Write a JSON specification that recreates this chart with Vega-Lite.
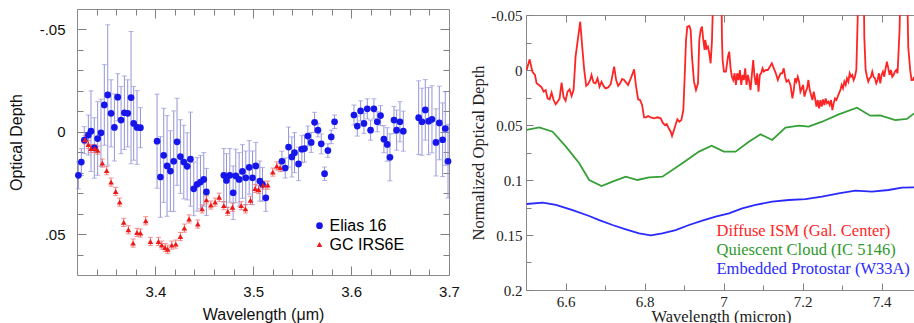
{
  "$schema": "https://vega.github.io/schema/vega-lite/v6.json",
  "padding": {"left": 7, "top": 7, "right": 0, "bottom": 0},
  "background": "white",
  "config": {
    "view": {"stroke": "#8a8a8a", "strokeWidth": 1},
    "axis": {"domain": false, "grid": false}
  },
  "columns": 2,
  "align": "none",
  "spacing": 10,
  "resolve": {"scale": {"color": "independent", "shape": "independent", "size": "independent"}},
  "datasets": {
    "left": [
      {"wl": 3.3214, "tau": 0.0213, "err": 0.0066, "src": "Elias 16"},
      {"wl": 3.3244, "tau": 0.0148, "err": 0.0066, "src": "Elias 16"},
      {"wl": 3.3275, "tau": 0.0041, "err": 0.0066, "src": "Elias 16"},
      {"wl": 3.3316, "tau": 0.0016, "err": 0.0098, "src": "Elias 16"},
      {"wl": 3.3343, "tau": -0.0003, "err": 0.0197, "src": "Elias 16"},
      {"wl": 3.3377, "tau": 0.0079, "err": 0.0148, "src": "Elias 16"},
      {"wl": 3.3411, "tau": 0.0033, "err": 0.018, "src": "Elias 16"},
      {"wl": 3.3445, "tau": 0.0005, "err": 0.0164, "src": "Elias 16"},
      {"wl": 3.3479, "tau": -0.0131, "err": 0.0197, "src": "Elias 16"},
      {"wl": 3.3514, "tau": -0.018, "err": 0.0343, "src": "Elias 16"},
      {"wl": 3.3548, "tau": -0.009, "err": 0.0164, "src": "Elias 16"},
      {"wl": 3.3582, "tau": -0.0021, "err": 0.0164, "src": "Elias 16"},
      {"wl": 3.3616, "tau": -0.0169, "err": 0.0115, "src": "Elias 16"},
      {"wl": 3.365, "tau": -0.0057, "err": 0.0164, "src": "Elias 16"},
      {"wl": 3.3684, "tau": -0.0093, "err": 0.018, "src": "Elias 16"},
      {"wl": 3.3718, "tau": -0.009, "err": 0.0164, "src": "Elias 16"},
      {"wl": 3.3752, "tau": -0.0167, "err": 0.0323, "src": "Elias 16"},
      {"wl": 3.3779, "tau": -0.0041, "err": 0.018, "src": "Elias 16"},
      {"wl": 3.3813, "tau": -0.0021, "err": 0.018, "src": "Elias 16"},
      {"wl": 3.3848, "tau": -0.002, "err": 0.0098, "src": "Elias 16"},
      {"wl": 3.4018, "tau": 0.0046, "err": 0.023, "src": "Elias 16"},
      {"wl": 3.4052, "tau": 0.0221, "err": 0.0197, "src": "Elias 16"},
      {"wl": 3.4086, "tau": 0.0115, "err": 0.023, "src": "Elias 16"},
      {"wl": 3.412, "tau": 0.0167, "err": 0.0246, "src": "Elias 16"},
      {"wl": 3.4154, "tau": 0.0192, "err": 0.0197, "src": "Elias 16"},
      {"wl": 3.4188, "tau": 0.0144, "err": 0.0246, "src": "Elias 16"},
      {"wl": 3.4222, "tau": 0.0049, "err": 0.0213, "src": "Elias 16"},
      {"wl": 3.4256, "tau": 0.0121, "err": 0.018, "src": "Elias 16"},
      {"wl": 3.4291, "tau": 0.0148, "err": 0.018, "src": "Elias 16"},
      {"wl": 3.4325, "tau": 0.0169, "err": 0.0164, "src": "Elias 16"},
      {"wl": 3.4359, "tau": 0.0134, "err": 0.023, "src": "Elias 16"},
      {"wl": 3.4393, "tau": 0.0279, "err": 0.0131, "src": "Elias 16"},
      {"wl": 3.4427, "tau": 0.0257, "err": 0.0131, "src": "Elias 16"},
      {"wl": 3.4461, "tau": 0.0246, "err": 0.0131, "src": "Elias 16"},
      {"wl": 3.4495, "tau": 0.0233, "err": 0.0131, "src": "Elias 16"},
      {"wl": 3.4522, "tau": 0.0294, "err": 0.0115, "src": "Elias 16"},
      {"wl": 3.47, "tau": 0.0213, "err": 0.0131, "src": "Elias 16"},
      {"wl": 3.4727, "tau": 0.0238, "err": 0.0131, "src": "Elias 16"},
      {"wl": 3.4761, "tau": 0.0213, "err": 0.0131, "src": "Elias 16"},
      {"wl": 3.4795, "tau": 0.0298, "err": 0.0131, "src": "Elias 16"},
      {"wl": 3.4822, "tau": 0.0216, "err": 0.0131, "src": "Elias 16"},
      {"wl": 3.4856, "tau": 0.0233, "err": 0.0131, "src": "Elias 16"},
      {"wl": 3.489, "tau": 0.0194, "err": 0.0131, "src": "Elias 16"},
      {"wl": 3.4924, "tau": 0.0225, "err": 0.0131, "src": "Elias 16"},
      {"wl": 3.4959, "tau": 0.0174, "err": 0.0131, "src": "Elias 16"},
      {"wl": 3.4993, "tau": 0.0225, "err": 0.0131, "src": "Elias 16"},
      {"wl": 3.5027, "tau": 0.0167, "err": 0.0115, "src": "Elias 16"},
      {"wl": 3.5068, "tau": 0.0241, "err": 0.0098, "src": "Elias 16"},
      {"wl": 3.5095, "tau": 0.0257, "err": 0.0082, "src": "Elias 16"},
      {"wl": 3.5129, "tau": 0.0323, "err": 0.0066, "src": "Elias 16"},
      {"wl": 3.5293, "tau": 0.0144, "err": 0.0049, "src": "Elias 16"},
      {"wl": 3.5327, "tau": 0.0177, "err": 0.0049, "src": "Elias 16"},
      {"wl": 3.5361, "tau": 0.0075, "err": 0.0098, "src": "Elias 16"},
      {"wl": 3.5395, "tau": 0.0123, "err": 0.0098, "src": "Elias 16"},
      {"wl": 3.5422, "tau": 0.0102, "err": 0.0098, "src": "Elias 16"},
      {"wl": 3.5463, "tau": 0.0157, "err": 0.0082, "src": "Elias 16"},
      {"wl": 3.5497, "tau": 0.0085, "err": 0.0066, "src": "Elias 16"},
      {"wl": 3.5524, "tau": 0.0082, "err": 0.0066, "src": "Elias 16"},
      {"wl": 3.5558, "tau": 0.0021, "err": 0.0049, "src": "Elias 16"},
      {"wl": 3.5592, "tau": 0.0052, "err": 0.0049, "src": "Elias 16"},
      {"wl": 3.5627, "tau": -0.0046, "err": 0.0049, "src": "Elias 16"},
      {"wl": 3.5661, "tau": -0.0008, "err": 0.0033, "src": "Elias 16"},
      {"wl": 3.5695, "tau": 0.0059, "err": 0.0049, "src": "Elias 16"},
      {"wl": 3.5729, "tau": 0.0205, "err": 0.0033, "src": "Elias 16"},
      {"wl": 3.5763, "tau": 0.0092, "err": 0.0033, "src": "Elias 16"},
      {"wl": 3.5797, "tau": 0.0025, "err": 0.0033, "src": "Elias 16"},
      {"wl": 3.5831, "tau": -0.0049, "err": 0.0033, "src": "Elias 16"},
      {"wl": 3.6029, "tau": -0.0082, "err": 0.0049, "src": "Elias 16"},
      {"wl": 3.6063, "tau": -0.0028, "err": 0.0049, "src": "Elias 16"},
      {"wl": 3.6097, "tau": -0.0102, "err": 0.0049, "src": "Elias 16"},
      {"wl": 3.6131, "tau": -0.0041, "err": 0.0049, "src": "Elias 16"},
      {"wl": 3.6165, "tau": -0.0112, "err": 0.0049, "src": "Elias 16"},
      {"wl": 3.6199, "tau": -0.0008, "err": 0.0049, "src": "Elias 16"},
      {"wl": 3.6233, "tau": -0.0112, "err": 0.0049, "src": "Elias 16"},
      {"wl": 3.6267, "tau": -0.0049, "err": 0.0049, "src": "Elias 16"},
      {"wl": 3.6301, "tau": -0.0079, "err": 0.0049, "src": "Elias 16"},
      {"wl": 3.6335, "tau": 0.0036, "err": 0.0066, "src": "Elias 16"},
      {"wl": 3.6369, "tau": 0.0062, "err": 0.0082, "src": "Elias 16"},
      {"wl": 3.6397, "tau": 0.0125, "err": 0.0115, "src": "Elias 16"},
      {"wl": 3.6438, "tau": -0.0057, "err": 0.0066, "src": "Elias 16"},
      {"wl": 3.6465, "tau": -0.0008, "err": 0.0098, "src": "Elias 16"},
      {"wl": 3.6499, "tau": -0.0049, "err": 0.0098, "src": "Elias 16"},
      {"wl": 3.6533, "tau": -0.0003, "err": 0.0098, "src": "Elias 16"},
      {"wl": 3.669, "tau": -0.0069, "err": 0.018, "src": "Elias 16"},
      {"wl": 3.6724, "tau": -0.0049, "err": 0.0164, "src": "Elias 16"},
      {"wl": 3.6758, "tau": -0.0107, "err": 0.0148, "src": "Elias 16"},
      {"wl": 3.6792, "tau": -0.0052, "err": 0.0164, "src": "Elias 16"},
      {"wl": 3.6826, "tau": -0.0061, "err": 0.0164, "src": "Elias 16"},
      {"wl": 3.6867, "tau": 0.0052, "err": 0.0164, "src": "Elias 16"},
      {"wl": 3.6901, "tau": -0.0043, "err": 0.018, "src": "Elias 16"},
      {"wl": 3.6935, "tau": 0.0039, "err": 0.018, "src": "Elias 16"},
      {"wl": 3.6962, "tau": -0.0016, "err": 0.018, "src": "Elias 16"},
      {"wl": 3.699, "tau": 0.0144, "err": 0.018, "src": "Elias 16"},
      {"wl": 3.3282, "tau": 0.0039, "err": 0.002, "src": "GC IRS6E"},
      {"wl": 3.3316, "tau": 0.0062, "err": 0.002, "src": "GC IRS6E"},
      {"wl": 3.3343, "tau": 0.0082, "err": 0.002, "src": "GC IRS6E"},
      {"wl": 3.3381, "tau": 0.0082, "err": 0.002, "src": "GC IRS6E"},
      {"wl": 3.3411, "tau": 0.009, "err": 0.002, "src": "GC IRS6E"},
      {"wl": 3.3459, "tau": 0.0153, "err": 0.002, "src": "GC IRS6E"},
      {"wl": 3.3503, "tau": 0.019, "err": 0.002, "src": "GC IRS6E"},
      {"wl": 3.3548, "tau": 0.0246, "err": 0.002, "src": "GC IRS6E"},
      {"wl": 3.3595, "tau": 0.0292, "err": 0.002, "src": "GC IRS6E"},
      {"wl": 3.3636, "tau": 0.0344, "err": 0.002, "src": "GC IRS6E"},
      {"wl": 3.3677, "tau": 0.0443, "err": 0.002, "src": "GC IRS6E"},
      {"wl": 3.3725, "tau": 0.0479, "err": 0.002, "src": "GC IRS6E"},
      {"wl": 3.3773, "tau": 0.0544, "err": 0.002, "src": "GC IRS6E"},
      {"wl": 3.3813, "tau": 0.0492, "err": 0.002, "src": "GC IRS6E"},
      {"wl": 3.3848, "tau": 0.0495, "err": 0.002, "src": "GC IRS6E"},
      {"wl": 3.3902, "tau": 0.0435, "err": 0.002, "src": "GC IRS6E"},
      {"wl": 3.395, "tau": 0.0536, "err": 0.002, "src": "GC IRS6E"},
      {"wl": 3.4032, "tau": 0.0536, "err": 0.002, "src": "GC IRS6E"},
      {"wl": 3.4066, "tau": 0.0554, "err": 0.002, "src": "GC IRS6E"},
      {"wl": 3.41, "tau": 0.0566, "err": 0.002, "src": "GC IRS6E"},
      {"wl": 3.4127, "tau": 0.0574, "err": 0.002, "src": "GC IRS6E"},
      {"wl": 3.4168, "tau": 0.0554, "err": 0.002, "src": "GC IRS6E"},
      {"wl": 3.4209, "tau": 0.0549, "err": 0.002, "src": "GC IRS6E"},
      {"wl": 3.4256, "tau": 0.0512, "err": 0.002, "src": "GC IRS6E"},
      {"wl": 3.4297, "tau": 0.0471, "err": 0.002, "src": "GC IRS6E"},
      {"wl": 3.4345, "tau": 0.0426, "err": 0.002, "src": "GC IRS6E"},
      {"wl": 3.4434, "tau": 0.0451, "err": 0.002, "src": "GC IRS6E"},
      {"wl": 3.4478, "tau": 0.0377, "err": 0.002, "src": "GC IRS6E"},
      {"wl": 3.4522, "tau": 0.0333, "err": 0.002, "src": "GC IRS6E"},
      {"wl": 3.4567, "tau": 0.0358, "err": 0.002, "src": "GC IRS6E"},
      {"wl": 3.4611, "tau": 0.0344, "err": 0.002, "src": "GC IRS6E"},
      {"wl": 3.4652, "tau": 0.032, "err": 0.002, "src": "GC IRS6E"},
      {"wl": 3.47, "tau": 0.0361, "err": 0.002, "src": "GC IRS6E"},
      {"wl": 3.474, "tau": 0.0389, "err": 0.002, "src": "GC IRS6E"},
      {"wl": 3.4788, "tau": 0.0369, "err": 0.002, "src": "GC IRS6E"},
      {"wl": 3.4877, "tau": 0.0361, "err": 0.002, "src": "GC IRS6E"},
      {"wl": 3.4921, "tau": 0.0377, "err": 0.002, "src": "GC IRS6E"},
      {"wl": 3.4972, "tau": 0.0335, "err": 0.002, "src": "GC IRS6E"},
      {"wl": 3.502, "tau": 0.0277, "err": 0.002, "src": "GC IRS6E"},
      {"wl": 3.5054, "tau": 0.0282, "err": 0.002, "src": "GC IRS6E"},
      {"wl": 3.5102, "tau": 0.0261, "err": 0.002, "src": "GC IRS6E"},
      {"wl": 3.5149, "tau": 0.0261, "err": 0.002, "src": "GC IRS6E"},
      {"wl": 3.52, "tau": 0.0197, "err": 0.002, "src": "GC IRS6E"},
      {"wl": 3.5241, "tau": 0.0167, "err": 0.002, "src": "GC IRS6E"},
      {"wl": 3.5275, "tau": 0.0175, "err": 0.002, "src": "GC IRS6E"}
    ],
    "right": [
      {"wl": 6.5017, "tau": 0, "src": "Diffuse ISM (Gal. Center)"},
      {"wl": 6.5093, "tau": -0.0097, "src": "Diffuse ISM (Gal. Center)"},
      {"wl": 6.516, "tau": 0.0015, "src": "Diffuse ISM (Gal. Center)"},
      {"wl": 6.5227, "tau": 0.0045, "src": "Diffuse ISM (Gal. Center)"},
      {"wl": 6.5269, "tau": 0.0121, "src": "Diffuse ISM (Gal. Center)"},
      {"wl": 6.5328, "tau": 0.0136, "src": "Diffuse ISM (Gal. Center)"},
      {"wl": 6.5396, "tau": 0.0158, "src": "Diffuse ISM (Gal. Center)"},
      {"wl": 6.5446, "tau": 0.0197, "src": "Diffuse ISM (Gal. Center)"},
      {"wl": 6.5497, "tau": 0.0182, "src": "Diffuse ISM (Gal. Center)"},
      {"wl": 6.5547, "tau": 0.0258, "src": "Diffuse ISM (Gal. Center)"},
      {"wl": 6.5598, "tau": 0.0267, "src": "Diffuse ISM (Gal. Center)"},
      {"wl": 6.5648, "tau": 0.0206, "src": "Diffuse ISM (Gal. Center)"},
      {"wl": 6.5699, "tau": 0.0273, "src": "Diffuse ISM (Gal. Center)"},
      {"wl": 6.5749, "tau": 0.0312, "src": "Diffuse ISM (Gal. Center)"},
      {"wl": 6.58, "tau": 0.0288, "src": "Diffuse ISM (Gal. Center)"},
      {"wl": 6.5851, "tau": 0.0258, "src": "Diffuse ISM (Gal. Center)"},
      {"wl": 6.5901, "tau": 0.0115, "src": "Diffuse ISM (Gal. Center)"},
      {"wl": 6.5952, "tau": 0.0248, "src": "Diffuse ISM (Gal. Center)"},
      {"wl": 6.6002, "tau": 0.0279, "src": "Diffuse ISM (Gal. Center)"},
      {"wl": 6.6053, "tau": 0.0197, "src": "Diffuse ISM (Gal. Center)"},
      {"wl": 6.6103, "tau": 0.0176, "src": "Diffuse ISM (Gal. Center)"},
      {"wl": 6.6154, "tau": 0.0236, "src": "Diffuse ISM (Gal. Center)"},
      {"wl": 6.6204, "tau": 0.0182, "src": "Diffuse ISM (Gal. Center)"},
      {"wl": 6.6255, "tau": -0.0121, "src": "Diffuse ISM (Gal. Center)"},
      {"wl": 6.6322, "tau": -0.0303, "src": "Diffuse ISM (Gal. Center)"},
      {"wl": 6.6373, "tau": -0.0439, "src": "Diffuse ISM (Gal. Center)"},
      {"wl": 6.6423, "tau": -0.0212, "src": "Diffuse ISM (Gal. Center)"},
      {"wl": 6.6474, "tau": 0, "src": "Diffuse ISM (Gal. Center)"},
      {"wl": 6.6524, "tau": 0.0145, "src": "Diffuse ISM (Gal. Center)"},
      {"wl": 6.6575, "tau": 0.0127, "src": "Diffuse ISM (Gal. Center)"},
      {"wl": 6.6625, "tau": 0.0091, "src": "Diffuse ISM (Gal. Center)"},
      {"wl": 6.6659, "tau": 0.0045, "src": "Diffuse ISM (Gal. Center)"},
      {"wl": 6.6709, "tau": 0.0115, "src": "Diffuse ISM (Gal. Center)"},
      {"wl": 6.676, "tau": 0.0121, "src": "Diffuse ISM (Gal. Center)"},
      {"wl": 6.6811, "tau": 0.0076, "src": "Diffuse ISM (Gal. Center)"},
      {"wl": 6.6861, "tau": 0.0152, "src": "Diffuse ISM (Gal. Center)"},
      {"wl": 6.6912, "tau": 0.0106, "src": "Diffuse ISM (Gal. Center)"},
      {"wl": 6.6962, "tau": 0.0145, "src": "Diffuse ISM (Gal. Center)"},
      {"wl": 6.7013, "tau": 0.0167, "src": "Diffuse ISM (Gal. Center)"},
      {"wl": 6.708, "tau": 0.0158, "src": "Diffuse ISM (Gal. Center)"},
      {"wl": 6.7147, "tau": 0.0127, "src": "Diffuse ISM (Gal. Center)"},
      {"wl": 6.7198, "tau": 0.003, "src": "Diffuse ISM (Gal. Center)"},
      {"wl": 6.7232, "tau": -0.003, "src": "Diffuse ISM (Gal. Center)"},
      {"wl": 6.7282, "tau": 0.0091, "src": "Diffuse ISM (Gal. Center)"},
      {"wl": 6.7333, "tau": 0.0145, "src": "Diffuse ISM (Gal. Center)"},
      {"wl": 6.7383, "tau": 0.0121, "src": "Diffuse ISM (Gal. Center)"},
      {"wl": 6.7434, "tau": 0.0082, "src": "Diffuse ISM (Gal. Center)"},
      {"wl": 6.7484, "tau": 0.0091, "src": "Diffuse ISM (Gal. Center)"},
      {"wl": 6.7535, "tau": 0.0115, "src": "Diffuse ISM (Gal. Center)"},
      {"wl": 6.7585, "tau": 0.0136, "src": "Diffuse ISM (Gal. Center)"},
      {"wl": 6.7636, "tau": 0.0091, "src": "Diffuse ISM (Gal. Center)"},
      {"wl": 6.7686, "tau": 0.0045, "src": "Diffuse ISM (Gal. Center)"},
      {"wl": 6.7737, "tau": -0.0006, "src": "Diffuse ISM (Gal. Center)"},
      {"wl": 6.7787, "tau": 0.0152, "src": "Diffuse ISM (Gal. Center)"},
      {"wl": 6.7838, "tau": 0.0267, "src": "Diffuse ISM (Gal. Center)"},
      {"wl": 6.7888, "tau": 0.0273, "src": "Diffuse ISM (Gal. Center)"},
      {"wl": 6.7939, "tau": 0.0318, "src": "Diffuse ISM (Gal. Center)"},
      {"wl": 6.7989, "tau": 0.043, "src": "Diffuse ISM (Gal. Center)"},
      {"wl": 6.804, "tau": 0.043, "src": "Diffuse ISM (Gal. Center)"},
      {"wl": 6.8091, "tau": 0.0418, "src": "Diffuse ISM (Gal. Center)"},
      {"wl": 6.8158, "tau": 0.043, "src": "Diffuse ISM (Gal. Center)"},
      {"wl": 6.8242, "tau": 0.0439, "src": "Diffuse ISM (Gal. Center)"},
      {"wl": 6.8326, "tau": 0.043, "src": "Diffuse ISM (Gal. Center)"},
      {"wl": 6.8411, "tau": 0.0439, "src": "Diffuse ISM (Gal. Center)"},
      {"wl": 6.8461, "tau": 0.0479, "src": "Diffuse ISM (Gal. Center)"},
      {"wl": 6.8512, "tau": 0.05, "src": "Diffuse ISM (Gal. Center)"},
      {"wl": 6.8562, "tau": 0.0491, "src": "Diffuse ISM (Gal. Center)"},
      {"wl": 6.8613, "tau": 0.053, "src": "Diffuse ISM (Gal. Center)"},
      {"wl": 6.8663, "tau": 0.0561, "src": "Diffuse ISM (Gal. Center)"},
      {"wl": 6.8697, "tau": 0.06, "src": "Diffuse ISM (Gal. Center)"},
      {"wl": 6.8747, "tau": 0.0545, "src": "Diffuse ISM (Gal. Center)"},
      {"wl": 6.8798, "tau": 0.0485, "src": "Diffuse ISM (Gal. Center)"},
      {"wl": 6.8832, "tau": 0.0448, "src": "Diffuse ISM (Gal. Center)"},
      {"wl": 6.8882, "tau": 0.047, "src": "Diffuse ISM (Gal. Center)"},
      {"wl": 6.8933, "tau": 0.0455, "src": "Diffuse ISM (Gal. Center)"},
      {"wl": 6.8983, "tau": 0.0364, "src": "Diffuse ISM (Gal. Center)"},
      {"wl": 6.9017, "tau": 0.0061, "src": "Diffuse ISM (Gal. Center)"},
      {"wl": 6.9051, "tau": -0.0273, "src": "Diffuse ISM (Gal. Center)"},
      {"wl": 6.9084, "tau": -0.0394, "src": "Diffuse ISM (Gal. Center)"},
      {"wl": 6.9135, "tau": -0.04, "src": "Diffuse ISM (Gal. Center)"},
      {"wl": 6.9168, "tau": -0.0364, "src": "Diffuse ISM (Gal. Center)"},
      {"wl": 6.9202, "tau": -0.0121, "src": "Diffuse ISM (Gal. Center)"},
      {"wl": 6.9253, "tau": 0.0106, "src": "Diffuse ISM (Gal. Center)"},
      {"wl": 6.9303, "tau": 0.0182, "src": "Diffuse ISM (Gal. Center)"},
      {"wl": 6.9354, "tau": 0.0121, "src": "Diffuse ISM (Gal. Center)"},
      {"wl": 6.9387, "tau": -0.0273, "src": "Diffuse ISM (Gal. Center)"},
      {"wl": 6.9421, "tau": -0.0364, "src": "Diffuse ISM (Gal. Center)"},
      {"wl": 6.9455, "tau": -0.0394, "src": "Diffuse ISM (Gal. Center)"},
      {"wl": 6.9488, "tau": -0.0273, "src": "Diffuse ISM (Gal. Center)"},
      {"wl": 6.9522, "tau": -0.0182, "src": "Diffuse ISM (Gal. Center)"},
      {"wl": 6.9539, "tau": -0.0273, "src": "Diffuse ISM (Gal. Center)"},
      {"wl": 6.9573, "tau": -0.0197, "src": "Diffuse ISM (Gal. Center)"},
      {"wl": 6.9606, "tau": -0.0212, "src": "Diffuse ISM (Gal. Center)"},
      {"wl": 6.964, "tau": -0.0152, "src": "Diffuse ISM (Gal. Center)"},
      {"wl": 6.9674, "tau": -0.0061, "src": "Diffuse ISM (Gal. Center)"},
      {"wl": 6.9707, "tau": -0.0258, "src": "Diffuse ISM (Gal. Center)"},
      {"wl": 6.9724, "tau": -0.0485, "src": "Diffuse ISM (Gal. Center)"},
      {"wl": 6.9758, "tau": -0.0939, "src": "Diffuse ISM (Gal. Center)"},
      {"wl": 6.9943, "tau": -0.0939, "src": "Diffuse ISM (Gal. Center)"},
      {"wl": 6.996, "tau": -0.0303, "src": "Diffuse ISM (Gal. Center)"},
      {"wl": 6.9977, "tau": -0.0091, "src": "Diffuse ISM (Gal. Center)"},
      {"wl": 7.0011, "tau": 0.0015, "src": "Diffuse ISM (Gal. Center)"},
      {"wl": 7.0061, "tau": 0.0015, "src": "Diffuse ISM (Gal. Center)"},
      {"wl": 7.0112, "tau": -0.0121, "src": "Diffuse ISM (Gal. Center)"},
      {"wl": 7.0145, "tau": -0.0167, "src": "Diffuse ISM (Gal. Center)"},
      {"wl": 7.0179, "tau": -0.0015, "src": "Diffuse ISM (Gal. Center)"},
      {"wl": 7.0213, "tau": 0.0061, "src": "Diffuse ISM (Gal. Center)"},
      {"wl": 7.0246, "tau": 0.0091, "src": "Diffuse ISM (Gal. Center)"},
      {"wl": 7.028, "tau": 0.003, "src": "Diffuse ISM (Gal. Center)"},
      {"wl": 7.0314, "tau": 0.0136, "src": "Diffuse ISM (Gal. Center)"},
      {"wl": 7.0347, "tau": 0.003, "src": "Diffuse ISM (Gal. Center)"},
      {"wl": 7.0381, "tau": 0.0091, "src": "Diffuse ISM (Gal. Center)"},
      {"wl": 7.0415, "tau": 0, "src": "Diffuse ISM (Gal. Center)"},
      {"wl": 7.0448, "tau": 0.0136, "src": "Diffuse ISM (Gal. Center)"},
      {"wl": 7.0482, "tau": 0.0045, "src": "Diffuse ISM (Gal. Center)"},
      {"wl": 7.0516, "tau": 0.0091, "src": "Diffuse ISM (Gal. Center)"},
      {"wl": 7.0549, "tau": -0.0015, "src": "Diffuse ISM (Gal. Center)"},
      {"wl": 7.0583, "tau": 0.0136, "src": "Diffuse ISM (Gal. Center)"},
      {"wl": 7.0617, "tau": 0.0045, "src": "Diffuse ISM (Gal. Center)"},
      {"wl": 7.0651, "tau": 0.0106, "src": "Diffuse ISM (Gal. Center)"},
      {"wl": 7.0684, "tau": 0.0182, "src": "Diffuse ISM (Gal. Center)"},
      {"wl": 7.0718, "tau": 0.0045, "src": "Diffuse ISM (Gal. Center)"},
      {"wl": 7.0752, "tau": -0.0091, "src": "Diffuse ISM (Gal. Center)"},
      {"wl": 7.0785, "tau": 0.0061, "src": "Diffuse ISM (Gal. Center)"},
      {"wl": 7.0819, "tau": 0.0136, "src": "Diffuse ISM (Gal. Center)"},
      {"wl": 7.0853, "tau": 0.003, "src": "Diffuse ISM (Gal. Center)"},
      {"wl": 7.0886, "tau": 0.0197, "src": "Diffuse ISM (Gal. Center)"},
      {"wl": 7.092, "tau": 0.0045, "src": "Diffuse ISM (Gal. Center)"},
      {"wl": 7.0954, "tau": 0.003, "src": "Diffuse ISM (Gal. Center)"},
      {"wl": 7.0987, "tau": -0.0015, "src": "Diffuse ISM (Gal. Center)"},
      {"wl": 7.1021, "tau": 0.0015, "src": "Diffuse ISM (Gal. Center)"},
      {"wl": 7.1072, "tau": 0, "src": "Diffuse ISM (Gal. Center)"},
      {"wl": 7.1122, "tau": 0, "src": "Diffuse ISM (Gal. Center)"},
      {"wl": 7.1173, "tau": -0.003, "src": "Diffuse ISM (Gal. Center)"},
      {"wl": 7.1223, "tau": -0.0061, "src": "Diffuse ISM (Gal. Center)"},
      {"wl": 7.1274, "tau": -0.0015, "src": "Diffuse ISM (Gal. Center)"},
      {"wl": 7.1324, "tau": 0.003, "src": "Diffuse ISM (Gal. Center)"},
      {"wl": 7.1375, "tau": 0.0091, "src": "Diffuse ISM (Gal. Center)"},
      {"wl": 7.1442, "tau": 0.003, "src": "Diffuse ISM (Gal. Center)"},
      {"wl": 7.1484, "tau": 0.003, "src": "Diffuse ISM (Gal. Center)"},
      {"wl": 7.1526, "tau": -0.0015, "src": "Diffuse ISM (Gal. Center)"},
      {"wl": 7.156, "tau": 0.0061, "src": "Diffuse ISM (Gal. Center)"},
      {"wl": 7.1594, "tau": 0.0106, "src": "Diffuse ISM (Gal. Center)"},
      {"wl": 7.1644, "tau": 0.0091, "src": "Diffuse ISM (Gal. Center)"},
      {"wl": 7.1695, "tau": 0.0136, "src": "Diffuse ISM (Gal. Center)"},
      {"wl": 7.1745, "tau": 0.0258, "src": "Diffuse ISM (Gal. Center)"},
      {"wl": 7.1779, "tau": 0.0182, "src": "Diffuse ISM (Gal. Center)"},
      {"wl": 7.1813, "tau": 0.0076, "src": "Diffuse ISM (Gal. Center)"},
      {"wl": 7.1846, "tau": 0.0106, "src": "Diffuse ISM (Gal. Center)"},
      {"wl": 7.188, "tau": 0.0061, "src": "Diffuse ISM (Gal. Center)"},
      {"wl": 7.1914, "tau": 0.0106, "src": "Diffuse ISM (Gal. Center)"},
      {"wl": 7.1947, "tau": 0.0197, "src": "Diffuse ISM (Gal. Center)"},
      {"wl": 7.1981, "tau": 0.0167, "src": "Diffuse ISM (Gal. Center)"},
      {"wl": 7.2015, "tau": 0.0136, "src": "Diffuse ISM (Gal. Center)"},
      {"wl": 7.2048, "tau": 0.0242, "src": "Diffuse ISM (Gal. Center)"},
      {"wl": 7.2082, "tau": 0.0197, "src": "Diffuse ISM (Gal. Center)"},
      {"wl": 7.2116, "tau": 0.0167, "src": "Diffuse ISM (Gal. Center)"},
      {"wl": 7.2149, "tau": 0.0091, "src": "Diffuse ISM (Gal. Center)"},
      {"wl": 7.2183, "tau": 0.0182, "src": "Diffuse ISM (Gal. Center)"},
      {"wl": 7.2217, "tau": 0.0227, "src": "Diffuse ISM (Gal. Center)"},
      {"wl": 7.2251, "tau": 0.0273, "src": "Diffuse ISM (Gal. Center)"},
      {"wl": 7.2284, "tau": 0.0197, "src": "Diffuse ISM (Gal. Center)"},
      {"wl": 7.2318, "tau": 0.0258, "src": "Diffuse ISM (Gal. Center)"},
      {"wl": 7.2352, "tau": 0.0333, "src": "Diffuse ISM (Gal. Center)"},
      {"wl": 7.2385, "tau": 0.0273, "src": "Diffuse ISM (Gal. Center)"},
      {"wl": 7.2419, "tau": 0.0348, "src": "Diffuse ISM (Gal. Center)"},
      {"wl": 7.2453, "tau": 0.0273, "src": "Diffuse ISM (Gal. Center)"},
      {"wl": 7.2486, "tau": 0.0333, "src": "Diffuse ISM (Gal. Center)"},
      {"wl": 7.252, "tau": 0.0267, "src": "Diffuse ISM (Gal. Center)"},
      {"wl": 7.2554, "tau": 0.0318, "src": "Diffuse ISM (Gal. Center)"},
      {"wl": 7.2587, "tau": 0.0258, "src": "Diffuse ISM (Gal. Center)"},
      {"wl": 7.2621, "tau": 0.0303, "src": "Diffuse ISM (Gal. Center)"},
      {"wl": 7.2655, "tau": 0.0288, "src": "Diffuse ISM (Gal. Center)"},
      {"wl": 7.2688, "tau": 0.0318, "src": "Diffuse ISM (Gal. Center)"},
      {"wl": 7.2722, "tau": 0.0273, "src": "Diffuse ISM (Gal. Center)"},
      {"wl": 7.2756, "tau": 0.0364, "src": "Diffuse ISM (Gal. Center)"},
      {"wl": 7.2789, "tau": 0.0303, "src": "Diffuse ISM (Gal. Center)"},
      {"wl": 7.2823, "tau": 0.0258, "src": "Diffuse ISM (Gal. Center)"},
      {"wl": 7.2857, "tau": 0.0273, "src": "Diffuse ISM (Gal. Center)"},
      {"wl": 7.2891, "tau": 0.0242, "src": "Diffuse ISM (Gal. Center)"},
      {"wl": 7.2924, "tau": 0.0212, "src": "Diffuse ISM (Gal. Center)"},
      {"wl": 7.2958, "tau": 0.0182, "src": "Diffuse ISM (Gal. Center)"},
      {"wl": 7.2992, "tau": 0.0136, "src": "Diffuse ISM (Gal. Center)"},
      {"wl": 7.3025, "tau": 0.0167, "src": "Diffuse ISM (Gal. Center)"},
      {"wl": 7.3059, "tau": 0.0106, "src": "Diffuse ISM (Gal. Center)"},
      {"wl": 7.3093, "tau": 0.0136, "src": "Diffuse ISM (Gal. Center)"},
      {"wl": 7.3126, "tau": 0.0076, "src": "Diffuse ISM (Gal. Center)"},
      {"wl": 7.316, "tau": 0.0106, "src": "Diffuse ISM (Gal. Center)"},
      {"wl": 7.3194, "tau": 0.003, "src": "Diffuse ISM (Gal. Center)"},
      {"wl": 7.3227, "tau": 0.0061, "src": "Diffuse ISM (Gal. Center)"},
      {"wl": 7.3261, "tau": 0.0045, "src": "Diffuse ISM (Gal. Center)"},
      {"wl": 7.3295, "tau": 0.0091, "src": "Diffuse ISM (Gal. Center)"},
      {"wl": 7.3328, "tau": 0.0061, "src": "Diffuse ISM (Gal. Center)"},
      {"wl": 7.3362, "tau": 0, "src": "Diffuse ISM (Gal. Center)"},
      {"wl": 7.3396, "tau": -0.0455, "src": "Diffuse ISM (Gal. Center)"},
      {"wl": 7.3413, "tau": -0.0939, "src": "Diffuse ISM (Gal. Center)"},
      {"wl": 7.3547, "tau": -0.0939, "src": "Diffuse ISM (Gal. Center)"},
      {"wl": 7.3564, "tau": -0.0303, "src": "Diffuse ISM (Gal. Center)"},
      {"wl": 7.3598, "tau": 0, "src": "Diffuse ISM (Gal. Center)"},
      {"wl": 7.3632, "tau": 0.0061, "src": "Diffuse ISM (Gal. Center)"},
      {"wl": 7.3665, "tau": 0.0106, "src": "Diffuse ISM (Gal. Center)"},
      {"wl": 7.3699, "tau": 0.0076, "src": "Diffuse ISM (Gal. Center)"},
      {"wl": 7.3733, "tau": 0.0061, "src": "Diffuse ISM (Gal. Center)"},
      {"wl": 7.3766, "tau": 0.0015, "src": "Diffuse ISM (Gal. Center)"},
      {"wl": 7.38, "tau": 0.0061, "src": "Diffuse ISM (Gal. Center)"},
      {"wl": 7.3834, "tau": 0.0076, "src": "Diffuse ISM (Gal. Center)"},
      {"wl": 7.3867, "tau": 0.0121, "src": "Diffuse ISM (Gal. Center)"},
      {"wl": 7.3901, "tau": 0.0091, "src": "Diffuse ISM (Gal. Center)"},
      {"wl": 7.3935, "tau": 0.003, "src": "Diffuse ISM (Gal. Center)"},
      {"wl": 7.3968, "tau": 0.0121, "src": "Diffuse ISM (Gal. Center)"},
      {"wl": 7.4002, "tau": 0.0045, "src": "Diffuse ISM (Gal. Center)"},
      {"wl": 7.4036, "tau": 0.0015, "src": "Diffuse ISM (Gal. Center)"},
      {"wl": 7.4069, "tau": 0.0061, "src": "Diffuse ISM (Gal. Center)"},
      {"wl": 7.4103, "tau": -0.0015, "src": "Diffuse ISM (Gal. Center)"},
      {"wl": 7.4137, "tau": -0.0076, "src": "Diffuse ISM (Gal. Center)"},
      {"wl": 7.4171, "tau": -0.0015, "src": "Diffuse ISM (Gal. Center)"},
      {"wl": 7.4204, "tau": 0.0045, "src": "Diffuse ISM (Gal. Center)"},
      {"wl": 7.4238, "tau": 0, "src": "Diffuse ISM (Gal. Center)"},
      {"wl": 7.4272, "tau": 0.0061, "src": "Diffuse ISM (Gal. Center)"},
      {"wl": 7.4305, "tau": 0.0045, "src": "Diffuse ISM (Gal. Center)"},
      {"wl": 7.4339, "tau": 0.0015, "src": "Diffuse ISM (Gal. Center)"},
      {"wl": 7.4373, "tau": 0, "src": "Diffuse ISM (Gal. Center)"},
      {"wl": 7.4406, "tau": 0.003, "src": "Diffuse ISM (Gal. Center)"},
      {"wl": 7.4457, "tau": -0.0364, "src": "Diffuse ISM (Gal. Center)"},
      {"wl": 7.4491, "tau": -0.0939, "src": "Diffuse ISM (Gal. Center)"},
      {"wl": 7.4642, "tau": -0.0939, "src": "Diffuse ISM (Gal. Center)"},
      {"wl": 7.4676, "tau": -0.0212, "src": "Diffuse ISM (Gal. Center)"},
      {"wl": 7.4726, "tau": 0, "src": "Diffuse ISM (Gal. Center)"},
      {"wl": 7.476, "tau": 0.0091, "src": "Diffuse ISM (Gal. Center)"},
      {"wl": 7.4794, "tau": 0.0091, "src": "Diffuse ISM (Gal. Center)"},
      {"wl": 7.4827, "tau": 0.0061, "src": "Diffuse ISM (Gal. Center)"},
      {"wl": 6.5017, "tau": 0.0545, "src": "Quiescent Cloud (IC 5146)"},
      {"wl": 6.5337, "tau": 0.0521, "src": "Quiescent Cloud (IC 5146)"},
      {"wl": 6.5674, "tau": 0.0561, "src": "Quiescent Cloud (IC 5146)"},
      {"wl": 6.6011, "tau": 0.0697, "src": "Quiescent Cloud (IC 5146)"},
      {"wl": 6.6347, "tau": 0.0848, "src": "Quiescent Cloud (IC 5146)"},
      {"wl": 6.66, "tau": 0.1, "src": "Quiescent Cloud (IC 5146)"},
      {"wl": 6.6912, "tau": 0.1055, "src": "Quiescent Cloud (IC 5146)"},
      {"wl": 6.719, "tau": 0.1015, "src": "Quiescent Cloud (IC 5146)"},
      {"wl": 6.7526, "tau": 0.097, "src": "Quiescent Cloud (IC 5146)"},
      {"wl": 6.7821, "tau": 0.1, "src": "Quiescent Cloud (IC 5146)"},
      {"wl": 6.8116, "tau": 0.0976, "src": "Quiescent Cloud (IC 5146)"},
      {"wl": 6.8453, "tau": 0.097, "src": "Quiescent Cloud (IC 5146)"},
      {"wl": 6.8958, "tau": 0.0848, "src": "Quiescent Cloud (IC 5146)"},
      {"wl": 6.9379, "tau": 0.0742, "src": "Quiescent Cloud (IC 5146)"},
      {"wl": 6.9699, "tau": 0.0688, "src": "Quiescent Cloud (IC 5146)"},
      {"wl": 7.0011, "tau": 0.0742, "src": "Quiescent Cloud (IC 5146)"},
      {"wl": 7.0305, "tau": 0.0742, "src": "Quiescent Cloud (IC 5146)"},
      {"wl": 7.0642, "tau": 0.0652, "src": "Quiescent Cloud (IC 5146)"},
      {"wl": 7.0937, "tau": 0.0585, "src": "Quiescent Cloud (IC 5146)"},
      {"wl": 7.1232, "tau": 0.0636, "src": "Quiescent Cloud (IC 5146)"},
      {"wl": 7.1568, "tau": 0.0524, "src": "Quiescent Cloud (IC 5146)"},
      {"wl": 7.1905, "tau": 0.0506, "src": "Quiescent Cloud (IC 5146)"},
      {"wl": 7.2158, "tau": 0.0515, "src": "Quiescent Cloud (IC 5146)"},
      {"wl": 7.2495, "tau": 0.047, "src": "Quiescent Cloud (IC 5146)"},
      {"wl": 7.2916, "tau": 0.0403, "src": "Quiescent Cloud (IC 5146)"},
      {"wl": 7.3379, "tau": 0.0342, "src": "Quiescent Cloud (IC 5146)"},
      {"wl": 7.3716, "tau": 0.0415, "src": "Quiescent Cloud (IC 5146)"},
      {"wl": 7.3968, "tau": 0.0412, "src": "Quiescent Cloud (IC 5146)"},
      {"wl": 7.4347, "tau": 0.0455, "src": "Quiescent Cloud (IC 5146)"},
      {"wl": 7.4642, "tau": 0.0445, "src": "Quiescent Cloud (IC 5146)"},
      {"wl": 7.4827, "tau": 0.0394, "src": "Quiescent Cloud (IC 5146)"},
      {"wl": 6.5017, "tau": 0.1218, "src": "Embedded Protostar (W33A)"},
      {"wl": 6.5421, "tau": 0.1206, "src": "Embedded Protostar (W33A)"},
      {"wl": 6.5758, "tau": 0.1227, "src": "Embedded Protostar (W33A)"},
      {"wl": 6.6179, "tau": 0.1273, "src": "Embedded Protostar (W33A)"},
      {"wl": 6.66, "tau": 0.1327, "src": "Embedded Protostar (W33A)"},
      {"wl": 6.6853, "tau": 0.1364, "src": "Embedded Protostar (W33A)"},
      {"wl": 6.719, "tau": 0.1409, "src": "Embedded Protostar (W33A)"},
      {"wl": 6.7526, "tau": 0.1448, "src": "Embedded Protostar (W33A)"},
      {"wl": 6.7863, "tau": 0.1485, "src": "Embedded Protostar (W33A)"},
      {"wl": 6.8158, "tau": 0.1503, "src": "Embedded Protostar (W33A)"},
      {"wl": 6.8453, "tau": 0.1485, "src": "Embedded Protostar (W33A)"},
      {"wl": 6.8789, "tau": 0.1455, "src": "Embedded Protostar (W33A)"},
      {"wl": 6.9126, "tau": 0.1409, "src": "Embedded Protostar (W33A)"},
      {"wl": 6.9463, "tau": 0.137, "src": "Embedded Protostar (W33A)"},
      {"wl": 6.98, "tau": 0.1333, "src": "Embedded Protostar (W33A)"},
      {"wl": 7.0137, "tau": 0.1303, "src": "Embedded Protostar (W33A)"},
      {"wl": 7.0474, "tau": 0.1258, "src": "Embedded Protostar (W33A)"},
      {"wl": 7.0811, "tau": 0.1227, "src": "Embedded Protostar (W33A)"},
      {"wl": 7.1232, "tau": 0.1197, "src": "Embedded Protostar (W33A)"},
      {"wl": 7.1653, "tau": 0.1182, "src": "Embedded Protostar (W33A)"},
      {"wl": 7.2074, "tau": 0.1173, "src": "Embedded Protostar (W33A)"},
      {"wl": 7.2495, "tau": 0.1152, "src": "Embedded Protostar (W33A)"},
      {"wl": 7.2916, "tau": 0.1121, "src": "Embedded Protostar (W33A)"},
      {"wl": 7.3337, "tau": 0.1097, "src": "Embedded Protostar (W33A)"},
      {"wl": 7.3758, "tau": 0.1106, "src": "Embedded Protostar (W33A)"},
      {"wl": 7.4179, "tau": 0.1091, "src": "Embedded Protostar (W33A)"},
      {"wl": 7.4516, "tau": 0.107, "src": "Embedded Protostar (W33A)"},
      {"wl": 7.4827, "tau": 0.1067, "src": "Embedded Protostar (W33A)"}
    ]
  },
  "concat": [
    {
      "width": 372,
      "height": 266,
      "data": {"name": "left"},
      "resolve": {"axis": {"x": "independent", "y": "independent"}},
      "layer": [
        {
          "transform": [{"filter": "datum.src == 'Elias 16'"}],
          "mark": {"type": "errorbar", "ticks": true, "color": "#9494d8", "thickness": 1},
          "encoding": {
            "x": {"field": "wl", "type": "quantitative",
              "scale": {"domain": [3.32, 3.7], "nice": false, "zero": false},
              "axis": {"orient": "bottom", "title": "Wavelength (μm)",
                "values": [3.34, 3.36, 3.38, 3.4, 3.42, 3.44, 3.46, 3.48, 3.5, 3.52, 3.54, 3.56, 3.58, 3.6, 3.62, 3.64, 3.66, 3.68, 3.7],
                "labelExpr": "abs(datum.value*10 - round(datum.value*10)) < 0.01 ? format(datum.value, '.1f') : ''",
                "tickSize": {"condition": {"test": "abs(datum.value*10 - round(datum.value*10)) < 0.01", "value": -9}, "value": -6},
                "tickColor": "#808080", "labelPadding": 18.5, "labelFont": "Liberation Sans", "labelFontSize": 15, "labelColor": "#111",
                "titleFont": "Liberation Sans", "titleFontSize": 16, "titleFontWeight": "normal", "titleColor": "#111", "titlePadding": 4, "labelFlush": false, "labelOverlap": false}},
            "y": {"field": "tau", "type": "quantitative",
              "scale": {"domain": [-0.06, 0.07], "reverse": true, "nice": false, "zero": false},
              "axis": {"orient": "left", "title": "Optical Depth",
                "values": [-0.05, -0.04, -0.03, -0.02, -0.01, 0, 0.01, 0.02, 0.03, 0.04, 0.05, 0.06],
                "labelExpr": "abs(datum.value*20 - round(datum.value*20)) < 0.01 ? replace('' + datum.value, '0.', '.') : ''",
                "tickSize": {"condition": {"test": "abs(datum.value*20 - round(datum.value*20)) < 0.01", "value": -9}, "value": -6},
                "tickColor": "#808080", "labelPadding": 21, "labelFont": "Liberation Sans", "labelFontSize": 15, "labelColor": "#111",
                "titleFont": "Liberation Sans", "titleFontSize": 16, "titleFontWeight": "normal", "titleColor": "#111", "titlePadding": 15, "labelOverlap": false}},
            "yError": {"field": "err"}
          }
        },
        {
          "transform": [{"filter": "datum.src == 'GC IRS6E'"}],
          "mark": {"type": "errorbar", "ticks": true, "color": "#f06a6a", "thickness": 1},
          "encoding": {
            "x": {"field": "wl", "type": "quantitative",
              "axis": {"orient": "top", "title": null, "labels": false,
                "values": [3.34, 3.36, 3.38, 3.4, 3.42, 3.44, 3.46, 3.48, 3.5, 3.52, 3.54, 3.56, 3.58, 3.6, 3.62, 3.64, 3.66, 3.68],
                "tickSize": {"condition": {"test": "abs(datum.value*10 - round(datum.value*10)) < 0.01", "value": -9}, "value": -6},
                "tickColor": "#808080"}},
            "y": {"field": "tau", "type": "quantitative",
              "axis": {"orient": "right", "title": null, "labels": false,
                "values": [-0.05, -0.04, -0.03, -0.02, -0.01, 0, 0.01, 0.02, 0.03, 0.04, 0.05, 0.06],
                "tickSize": {"condition": {"test": "abs(datum.value*20 - round(datum.value*20)) < 0.01", "value": -9}, "value": -6},
                "tickColor": "#808080"}},
            "yError": {"field": "err"}
          }
        },
        {
          "mark": {"type": "point", "filled": true, "opacity": 1},
          "encoding": {
            "x": {"field": "wl", "type": "quantitative", "axis": null},
            "y": {"field": "tau", "type": "quantitative", "axis": null},
            "color": {"field": "src", "type": "nominal",
              "scale": {"domain": ["Elias 16", "GC IRS6E"], "range": ["#1616ea", "#ee1818"]},
              "legend": {"title": null, "orient": "none", "legendX": 234.5, "legendY": 208.7,
                "labelFont": "Liberation Sans", "labelFontSize": 16, "labelOffset": 2, "rowPadding": 2.8, "symbolSize": 45,
                "encode": {"labels": {"update": {"fill": {"signal": "datum.value == 'Elias 16' ? '#1c1cf0' : '#f01c1c'"}}}}}},
            "shape": {"field": "src", "type": "nominal",
              "scale": {"domain": ["Elias 16", "GC IRS6E"], "range": ["circle", "triangle-up"]},
              "legend": {"title": null, "orient": "none", "legendX": 234.5, "legendY": 208.7,
                "labelFont": "Liberation Sans", "labelFontSize": 16, "labelOffset": 2, "rowPadding": 2.8, "symbolSize": 45,
                "encode": {"labels": {"update": {"fill": {"signal": "datum.value == 'Elias 16' ? '#1c1cf0' : '#f01c1c'"}}}}}},
            "size": {"field": "src", "type": "nominal",
              "scale": {"domain": ["Elias 16", "GC IRS6E"], "range": [45, 32]}, "legend": null}
          }
        }
      ]
    },
    {
      "spacing": -3,
      "vconcat": [
        {
          "width": 390,
          "height": 1,
          "data": {"values": []},
          "mark": {"type": "point", "opacity": 0},
          "encoding": {},
          "view": {"stroke": null}
        },
        {
          "width": 390,
          "height": 275,
          "data": {"name": "right"},
          "resolve": {"axis": {"x": "independent", "y": "independent"}},
          "layer": [
            {
              "mark": {"type": "line", "clip": true, "strokeWidth": 1.8},
              "encoding": {
                "x": {"field": "wl", "type": "quantitative",
                  "scale": {"domain": [6.5, 7.4873], "nice": false, "zero": false},
                  "axis": {"orient": "bottom", "title": "Wavelength (micron)",
                    "values": [6.6, 6.7, 6.8, 6.9, 7, 7.1, 7.2, 7.3, 7.4],
                    "labelExpr": "abs(datum.value*5 - round(datum.value*5)) < 0.01 ? '' + datum.value : ''",
                    "tickSize": {"condition": {"test": "abs(datum.value*5 - round(datum.value*5)) < 0.01", "value": -7}, "value": -5},
                    "tickColor": "#808080", "labelPadding": 11, "labelFont": "Liberation Serif", "labelFontSize": 15, "labelColor": "#222",
                    "titleFont": "Liberation Serif", "titleFontSize": 16.5, "titleFontWeight": "normal", "titleColor": "#222", "titlePadding": -2.5, "labelOverlap": false}},
                "y": {"field": "tau", "type": "quantitative",
                  "scale": {"domain": [-0.05, 0.2], "reverse": true, "nice": false, "zero": false},
                  "axis": {"orient": "left", "title": "Normalized Optical Depth",
                    "values": [-0.05, -0.025, 0, 0.025, 0.05, 0.075, 0.1, 0.125, 0.15, 0.175, 0.2],
                    "labelExpr": "abs(datum.value*20 - round(datum.value*20)) < 0.01 ? '' + datum.value : ''",
                    "tickSize": {"condition": {"test": "abs(datum.value*20 - round(datum.value*20)) < 0.01", "value": -7}, "value": -5},
                    "tickColor": "#808080", "labelPadding": 11, "labelFont": "Liberation Serif", "labelFontSize": 15, "labelColor": "#222",
                    "titleFont": "Liberation Serif", "titleFontSize": 16.5, "titleFontWeight": "normal", "titleColor": "#222", "titlePadding": 4, "labelOverlap": false}},
                "color": {"field": "src", "type": "nominal",
                  "scale": {"domain": ["Diffuse ISM (Gal. Center)", "Quiescent Cloud (IC 5146)", "Embedded Protostar (W33A)"], "range": ["#ff2424", "#35a035", "#2a2aff"]},
                  "legend": {"title": null, "orient": "none", "legendX": 174, "legendY": 213.5, "labelLimit": 400,
                    "labelFont": "Liberation Serif", "labelFontSize": 16.5, "labelOffset": 0, "rowPadding": 2, "symbolOpacity": 0, "symbolSize": 1, "symbolStrokeWidth": 0,
                    "encode": {"labels": {"update": {"fill": {"signal": "datum.value == 'Diffuse ISM (Gal. Center)' ? '#ff2424' : datum.value == 'Quiescent Cloud (IC 5146)' ? '#2e9a2e' : '#2a2aff'"}}}}}}
              }
            },
            {
              "mark": {"type": "line", "opacity": 0, "clip": true},
              "encoding": {
                "x": {"field": "wl", "type": "quantitative",
                  "axis": {"orient": "top", "title": null, "labels": false,
                    "values": [6.6, 6.7, 6.8, 6.9, 7, 7.1, 7.2, 7.3, 7.4],
                    "tickSize": {"condition": {"test": "abs(datum.value*5 - round(datum.value*5)) < 0.01", "value": -7}, "value": -5},
                    "tickColor": "#808080"}},
                "y": {"field": "tau", "type": "quantitative", "axis": null},
                "detail": {"field": "src", "type": "nominal"}
              }
            }
          ]
        }
      ]
    }
  ]
}
